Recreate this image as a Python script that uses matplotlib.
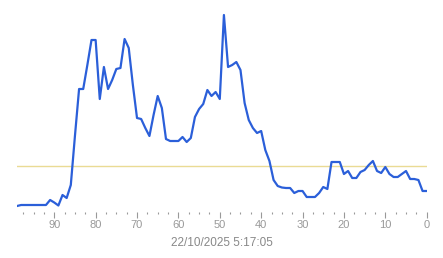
import matplotlib
matplotlib.use("Agg")
import matplotlib.pyplot as plt
from matplotlib.ticker import MultipleLocator

# minutes ago (x) and measured level (y, arbitrary units)
minutes = list(range(99, -1, -1))
values = [4, 5, 5, 5, 5, 5, 5, 5, 10, 7.5, 4.5, 15, 12, 25, 74, 121,      # 99..84
          121, 145, 170, 170, 111, 143, 121, 130, 141, 142, 171, 162,     # 83..72
          125, 92, 91, 82, 74, 95, 114, 102, 71, 69, 69, 69,               # 71..60
          73, 68, 72, 93, 101, 106, 120, 114, 118, 111,                    # 59..50
          195, 143, 145, 148, 140, 107, 90, 82, 77, 79,                    # 49..40
          60, 49, 30, 24, 22.5, 22, 22, 17, 19, 19,                        # 39..30
          13, 13, 13, 17, 23, 21, 48, 48, 48, 36,                          # 29..20
          39, 32, 32, 38, 40, 45, 49, 39, 37, 43,                          # 19..10
          36, 33, 33, 36, 39, 31, 31, 30, 19, 19]                          # 9..0
threshold = 44
x_label = "22/10/2025 5:17:05"

fig = plt.figure(figsize=(4.43, 2.58), dpi=100)
ax = fig.add_axes([17 / 443, (258 - 212) / 258, (426.7 - 17) / 443, 202 / 258])

ax.axhline(threshold, color="#eadb94", lw=1.0, zorder=1)
ax.plot(minutes, values, color="#2b5fd9", lw=1.6, zorder=2, solid_joinstyle="round")

ax.set_xlim(99, 0)
ax.set_ylim(-2, 200)
for s in ax.spines.values():
    s.set_visible(False)
ax.set_yticks([])
ax.xaxis.set_major_locator(MultipleLocator(10))
ax.xaxis.set_minor_locator(MultipleLocator(2.5))
ax.tick_params(axis="x", which="major", length=4, width=0.8, color="#999999",
               labelcolor="#999999", labelsize=8, pad=2)
ax.tick_params(axis="x", which="minor", length=1.2, width=0.8, color="#999999")
for lab in ax.get_xticklabels():
    lab.set_fontfamily("Liberation Sans")
ax.set_xlabel(x_label, color="#888888", fontsize=8.5, fontfamily="Liberation Sans", labelpad=5)

fig.savefig("out.png", dpi=100)
